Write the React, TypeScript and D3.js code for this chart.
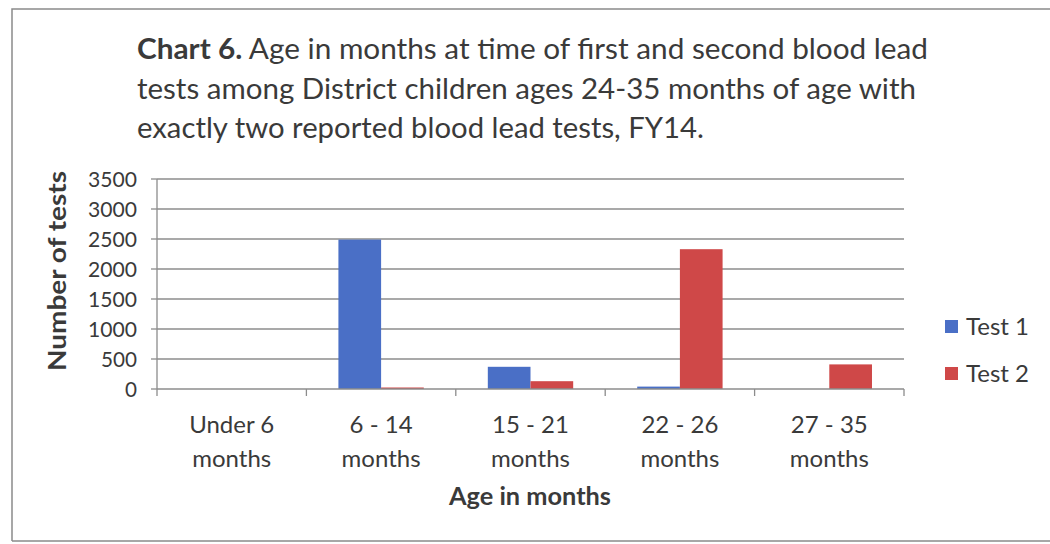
import React from "react";
import * as d3 from "d3";

const categories = ["Under 6|months", "6 - 14|months", "15 - 21|months", "22 - 26|months", "27 - 35|months"];
const test1 = [0, 2490, 370, 40, 0];
const test2 = [0, 25, 130, 2330, 410];
const seriesNames = ["Test 1", "Test 2"];
const yTicks = [0, 500, 1000, 1500, 2000, 2500, 3000, 3500];
const titleLines = [
  "Age in months at time of first and second blood lead",
  "tests among District children ages 24-35 months of age with",
  "exactly two reported blood lead tests, FY14.",
];

const COLORS = ["#4a6fc6", "#cf4848"];
const FONT = "Lato, 'Open Sans', sans-serif";

export default function App() {
  const left = 157, right = 904, top = 179, bottom = 389;
  const x = d3.scaleBand<string>().domain(categories).range([left, right]);
  const y = d3.scaleLinear().domain([0, 3500]).range([bottom, top]);
  const bw = x.bandwidth() / 3.5;
  const series = [test1, test2];
  const textCol = "#3a3a3a";
  return (
    <svg width={1050} height={544} style={{ position: "absolute", left: 0, top: 0, background: "#fff" }}>
      <rect x={0} y={0} width={1050} height={544} fill="#fff" />
      <path d="M12,541 L12,9 L1050,9" fill="none" stroke="#8a8a8a" strokeWidth={1.5} />
      <line x1={12} x2={1050} y1={541} y2={541} stroke="#8a8a8a" strokeWidth={1.5} />
      {/* title */}
      <text x={137} y={59} fontFamily={FONT} fontSize={28} fill={textCol} textLength={791} lengthAdjust="spacingAndGlyphs">
        <tspan fontWeight="bold">Chart 6.</tspan> {titleLines[0]}
      </text>
      <text x={137} y={99} fontFamily={FONT} fontSize={28} fill={textCol} textLength={779} lengthAdjust="spacingAndGlyphs">
        {titleLines[1]}
      </text>
      <text x={137} y={138} fontFamily={FONT} fontSize={28} fill={textCol} textLength={567} lengthAdjust="spacingAndGlyphs">
        {titleLines[2]}
      </text>
      {/* gridlines */}
      {yTicks.map((t) => (
        <g key={t}>
          {t > 0 && <line x1={left} x2={right} y1={y(t)} y2={y(t)} stroke="#8c8c8c" strokeWidth={1.3} />}
          <line x1={left - 6} x2={left} y1={y(t)} y2={y(t)} stroke="#8c8c8c" strokeWidth={1.3} />
          <text x={137} y={y(t) + 8} textAnchor="end" fontFamily={FONT} fontSize={22} fill={textCol}
            textLength={t === 0 ? 12 : t < 1000 ? 36 : 49} lengthAdjust="spacingAndGlyphs">
            {t}
          </text>
        </g>
      ))}
      {/* bars */}
      {series.map((s, si) =>
        s.map((v, i) => (
          <rect
            key={si + "-" + i}
            x={(x(categories[i]) as number) + bw * 0.75 + si * bw}
            y={y(v)}
            width={bw}
            height={bottom - y(v)}
            fill={COLORS[si]}
          />
        ))
      )}
      {/* axes */}
      <line x1={left} x2={left} y1={top} y2={bottom} stroke="#8c8c8c" strokeWidth={1.3} />
      <line x1={left} x2={right} y1={bottom} y2={bottom} stroke="#8c8c8c" strokeWidth={1.3} />
      {categories.map((c, i) => (
        <line key={"t" + i} x1={x(c) as number} x2={x(c) as number} y1={bottom} y2={bottom + 7} stroke="#8c8c8c" strokeWidth={1.3} />
      ))}
      <line x1={right} x2={right} y1={bottom} y2={bottom + 7} stroke="#8c8c8c" strokeWidth={1.3} />
      {categories.map((c) => {
        const cx = (x(c) as number) + x.bandwidth() / 2;
        const [a, b] = c.split("|");
        return (
          <g key={c}>
            <text x={cx} y={433} textAnchor="middle" fontFamily={FONT} fontSize={24} fill={textCol}>{a}</text>
            <text x={cx} y={467} textAnchor="middle" fontFamily={FONT} fontSize={24} fill={textCol}>{b}</text>
          </g>
        );
      })}
      <text x={530} y={505} textAnchor="middle" fontFamily={FONT} fontSize={25} fontWeight="bold" fill={textCol}
        textLength={162} lengthAdjust="spacingAndGlyphs">
        Age in months
      </text>
      <text transform={`translate(66,${271}) rotate(-90)`} textAnchor="middle" fontFamily={FONT} fontSize={25} fontWeight="bold" fill={textCol}
        textLength={200} lengthAdjust="spacingAndGlyphs">
        Number of tests
      </text>
      {/* legend */}
      {seriesNames.map((n, i) => (
        <g key={n}>
          <rect x={945} y={320 + i * 47} width={13} height={13} fill={COLORS[i]} />
          <text x={966} y={335 + i * 47} fontFamily={FONT} fontSize={24} fill={textCol}>{n}</text>
        </g>
      ))}
    </svg>
  );
}
